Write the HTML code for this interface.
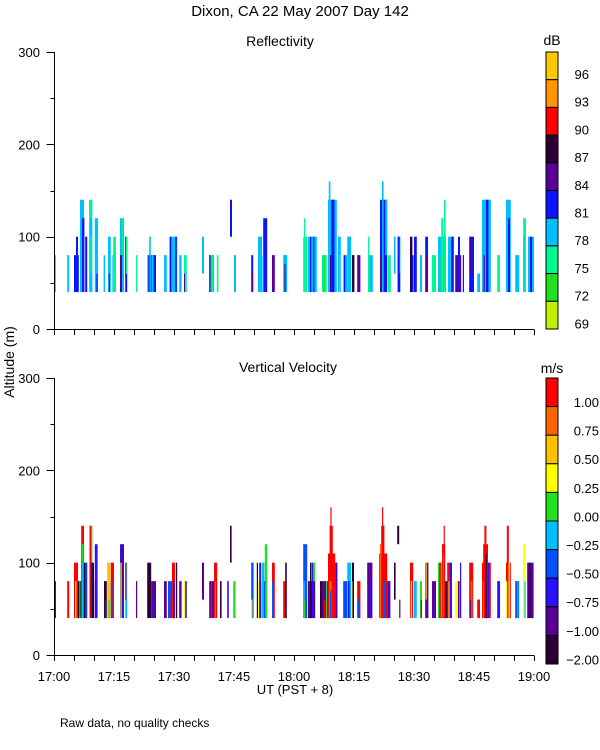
<!DOCTYPE html>
<html><head><meta charset="utf-8"><style>
html,body{margin:0;padding:0;background:#fff;}
svg{display:block;font-family:"Liberation Sans","DejaVu Sans",sans-serif;}
</style></head><body>
<svg id="chart" width="600" height="750" viewBox="0 0 600 750" xmlns="http://www.w3.org/2000/svg">
<text x="300" y="16" font-size="15" text-anchor="middle">Dixon, CA 22 May 2007  Day 142</text>
<text x="280" y="46" font-size="14" text-anchor="middle">Reflectivity</text>
<text x="288" y="372" font-size="14" text-anchor="middle">Vertical Velocity</text>
<text x="14" y="362" font-size="14" text-anchor="middle" transform="rotate(-90 14 362)">Altitude (m)</text>
<text x="295" y="694" font-size="13" text-anchor="middle">UT  (PST + 8)</text>
<text x="60" y="727" font-size="12">Raw data, no quality checks</text>
<text x="552" y="45" font-size="14" text-anchor="middle">dB</text>
<text x="552" y="373" font-size="14" text-anchor="middle">m/s</text>
<g id="marks"></g>
</svg>
<script>
const xTickLabels = ["17:00","17:15","17:30","17:45","18:00","18:15","18:30","18:45","19:00"];
const yTickValues = [0,100,200,300];
const reflLabels = ["96","93","90","87","84","81","78","75","72","69"];
const velLabels = ["1.00","0.75","0.50","0.25","0.00","-0.25","-0.50","-0.75","-1.00","-2.00"];
const reflColors = ["#c0f000","#20e020","#00f890","#00bfff","#0a14ff","#5a0096","#2a0035","#ff0000","#ff9600","#ffc800"];
const velColors = ["#2a0035","#5a0096","#2a10ff","#0050ff","#00bfff","#20e020","#ffff00","#ffc000","#ff6400","#ff0000"];
// reflectivity bars: [startMin, widthMin, loAlt, hiAlt, colorIdx]
const reflBars = [
[0,.5,40,80,2],[3.3,.5,40,80,3],[5,1.2,40,80,4],[5.5,.5,80,100,4],[6.5,1,40,140,3],[7,.6,40,120,4],[7.8,.5,40,100,4],
[8.8,.8,40,140,3],[9,.4,120,140,2],[9.1,.3,60,100,2],[10.2,.8,40,120,3],[10.6,.3,40,60,4],[12.4,.4,40,80,3],
[13.5,.7,40,100,3],[13.7,.3,40,60,4],[14.6,.3,40,80,3],[14.8,.7,40,100,2],[16.5,1,40,120,3],[16.5,.5,40,80,5],[17,.3,80,120,2],
[17.8,.5,40,100,4],[18,.3,60,100,2],[20.5,.3,40,80,2],[23.3,1,40,80,3],[23.8,.4,80,100,3],[23.6,.3,40,80,4],
[24.3,1.2,40,80,4],[24.5,.4,40,80,3],[27.5,.7,40,80,3],[28.8,2,40,100,3],[29,.3,40,100,4],[30.3,.4,40,100,4],
[31.3,.6,40,80,3],[32.5,.7,40,80,2],[32.5,.2,40,60,5],[37,.5,60,100,3],[38.8,1.2,40,80,3],[38.8,.3,40,80,5],[39.5,.3,40,80,2],
[40.7,.4,40,80,2],[44,.5,100,140,4],[45,.5,40,80,3],[49.3,.5,40,80,4],[49.5,.3,40,60,5],[51,1,40,100,3],[52.3,1,40,120,4],[52.1,.3,40,80,3],
[54.5,.7,40,80,5],[57.3,1,40,80,3],[57.6,.3,40,70,5],[62.3,1,40,100,2],[62.5,.3,80,120,2],[63.5,2.2,40,100,3],[64,.3,40,100,4],[64.8,.3,40,100,4],
[67,1.2,40,80,2],[67.3,.4,40,80,1],[68.5,2.2,40,140,3],[68.7,.4,40,160,3],[69.3,.8,40,140,4],[69,.3,40,80,5],
[71,.7,40,100,3],[71.2,.3,40,80,2],[72.3,1,40,80,3],[72.5,.3,40,80,4],[73.3,1,40,100,3],[74.5,.6,40,80,6],[75.8,.8,40,80,5],
[78.5,1.2,40,80,3],[78.5,.3,40,100,2],[81.5,1.8,40,140,4],[82,.4,40,160,3],[81.5,.4,40,80,5],[82.8,.5,80,140,3],
[83.5,.7,40,80,2],[85,.4,60,100,3],[85.8,.8,40,100,3],[86,.4,40,100,4],[86.3,.2,40,60,5],[89,.6,40,100,6],[89.5,.4,40,80,4],
[90,.7,40,100,4],[91.5,.5,40,80,3],[92.8,.7,40,100,4],[93,.3,40,80,5],[94.5,1,40,80,2],[96,2,40,100,3],[96.8,.5,40,120,2],
[97.5,.4,40,140,2],[96.3,.3,40,80,1],[98.5,1.5,40,100,3],[99.3,.6,40,100,4],[100.3,1.5,40,80,5],[101,.5,40,100,4],
[102.2,.3,40,80,4],[103.8,1.2,40,100,4],[104,.4,60,100,5],[105.8,.7,40,60,3],[107,2.2,40,140,3],[108,.6,40,140,4],
[107.4,.3,40,80,5],[110.8,.7,40,80,2],[113,1.2,40,140,3],[113.5,.5,40,120,4],[115.3,1,40,80,3],[117.3,.7,40,120,2],
[117.3,.3,40,100,3],[118.5,1.5,40,100,3],[119,.5,40,100,4]
];
// velocity bars: [startMin, widthMin, loAlt, hiAlt, colorIdx]
const velBars = [
[0,.5,40,80,1],[3.3,.5,40,80,9],[5,1,40,100,9],[5.3,.3,40,80,6],[5.8,.4,40,80,3],[6,.8,40,80,0],[6.3,.3,40,80,5],
[6.8,.7,40,140,9],[7,.4,40,120,4],[7,.3,100,120,5],[7.5,.8,40,100,0],[7.8,.4,40,100,3],[8.8,.8,40,140,5],[9,.3,40,140,9],
[9.2,.3,40,100,2],[9.5,.5,40,100,0],[10.2,.7,40,120,2],[10.2,.3,40,80,1],[12.5,.7,40,80,0],[12.7,.3,40,60,1],
[13.3,.8,40,100,7],[13.6,.3,40,60,5],[14.2,.8,40,100,9],[14.2,.4,40,80,3],[16.5,1,40,120,2],[16.6,.3,40,100,6],[17,.3,60,120,1],
[17.8,.5,40,100,4],[17.8,.3,60,100,9],[20.5,.3,40,80,1],[23.3,1,40,100,0],[24.3,1.2,40,80,1],[24.6,.4,40,60,2],
[27.5,.7,40,80,1],[28.5,1,40,80,3],[28.8,.3,40,60,9],[29.5,.8,40,100,9],[29.8,.4,40,80,2],[30.5,.3,40,100,0],
[31.3,.6,40,80,1],[32.5,.7,40,80,6],[32.8,.4,40,80,2],[37,.5,60,100,1],[38.8,1.3,40,80,1],[39.2,.3,40,80,9],
[40,.8,40,100,9],[40.2,.3,40,80,8],[41.5,.4,40,80,0],[43.3,.4,40,80,2],[44,.4,100,140,0],[44.8,.6,40,80,5],
[49.3,.6,40,100,3],[49.3,.3,40,60,6],[50.7,.3,40,100,0],[51,1.3,40,80,6],[51.3,.5,40,100,2],[52,.6,40,100,4],
[52.7,.6,40,120,5],[52.5,.3,40,80,3],[54.5,.7,40,100,9],[54.5,.3,40,80,3],[57.3,.8,40,80,9],[57.8,.4,40,100,0],
[62.3,1,40,120,3],[62.3,.4,40,80,4],[62.5,.3,40,60,5],[63.5,1.8,40,80,1],[64,.4,40,100,0],[64.5,.4,40,100,2],[65,.3,80,100,5],
[66.5,.5,40,80,0],[67,1.5,40,80,1],[67.5,.3,40,60,9],[68,.3,40,80,5],
[68.5,1.8,40,110,9],[68.9,.8,40,140,9],[69.1,.3,40,160,9],[68.8,.6,40,80,8],[69,.3,40,70,3],
[70.3,.5,40,100,2],[70.6,.2,40,100,1],[72.3,1,40,80,3],[73.3,1,40,100,4],[73.5,.4,40,80,2],[74.5,.5,40,100,0],[74.3,.3,40,80,6],
[75.8,.8,40,80,9],[76,.3,40,60,3],[78.3,1.3,40,100,1],[78.8,.4,40,80,2],
[81.3,2,40,110,9],[81.8,.8,40,140,9],[82,.3,40,160,9],[82.4,.4,40,80,3],[81.5,.3,40,120,8],
[83.3,.8,40,80,1],[83.6,.3,40,80,2],[85,.4,60,100,0],[85.8,.5,120,140,0],[86.3,.3,40,60,1],[89,.8,40,100,9],[89.2,.3,40,80,6],
[90,.7,40,80,4],[91.5,.5,40,80,5],[91.7,.2,40,60,1],[92.8,.8,40,100,1],[92.9,.3,60,100,7],[94.5,1,40,80,1],[94.8,.3,40,60,2],
[96,1,40,100,5],[96.3,.4,40,100,9],[97,.8,40,120,9],[97.4,.3,40,140,9],[97.2,.2,40,110,8],[97.8,.6,40,80,0],[98.3,.8,40,100,9],[99,.5,40,100,2],
[98.6,.3,40,80,7],[100.3,1.5,40,80,6],[101,.4,40,80,1],[101.5,.3,40,100,2],[103.8,1,40,100,9],[104.2,.4,40,80,8],[104,.3,40,60,1],
[105.8,.7,40,60,9],[107,2.2,40,100,9],[107.3,1.2,40,120,9],[107.6,.5,40,140,9],[107.9,.3,40,110,0],[108.4,.4,40,100,2],[107.2,.3,40,80,8],[110.8,.7,40,80,2],
[113,1.2,40,100,9],[113.2,.5,40,140,9],[113.6,.4,40,100,7],[113,.3,40,80,6],[115.3,1,40,80,3],[115.8,.3,40,80,5],[117.3,.6,40,120,6],[117.6,.3,40,80,4],
[118.3,1.6,40,100,1],[118.7,.4,40,100,0]
];

const NS = "http://www.w3.org/2000/svg";
const g = document.getElementById("marks");
const X0 = 54, PXMIN = 4;
const xScale = m => X0 + m * PXMIN;
const ppm = 0.9233;
const yTop = a => 329 - a * ppm;
const yBot = a => 655 - a * ppm;

function el(tag, attrs, parent) {
  const e = document.createElementNS(NS, tag);
  for (const k in attrs) e.setAttribute(k, attrs[k]);
  (parent || g).appendChild(e);
  return e;
}

function drawBars(bars, palette, yS, name) {
  bars.forEach(b => {
    const x = xScale(b[0]);
    const w = Math.max(1, b[1] * PXMIN);
    const r = el("rect", {x: x, y: yS(b[3]), width: w, height: yS(b[2]) - yS(b[3]), fill: palette[b[4]]});
    
    
  });
}
drawBars(reflBars, reflColors, yTop, 'reflectivity-bar');
drawBars(velBars, velColors, yBot, 'velocity-bar');

function drawAxes(yS, zeroY, prefix) {
  const ax = el("path", {d: `M${X0+.5} ${yS(300)} V${zeroY+.5} H534`, stroke: "#000", fill: "none", "stroke-width": 1});
  
  
  for (let v = 0; v <= 300; v += 50) {
    const y = Math.round(yS(v)) + .5;
    const len = v % 100 === 0 ? 8 : 4;
    const t = el("line", {x1: X0 + .5 - len, x2: X0 + .5, y1: y, y2: y, stroke: "#000"});
    
    
  }
  yTickValues.forEach(v => {
    const t = el("text", {x: 40, y: yS(v) + 5, "font-size": 13, "text-anchor": "end"});
    t.textContent = v;
    
    
  });
  for (let m = 0; m <= 120; m += 5) {
    const x = Math.round(xScale(m)) + .5;
    const t = el("line", {x1: x, x2: x, y1: zeroY + .5, y2: zeroY + 6, stroke: "#000"});
    
    
  }
}
drawAxes(yTop, 329, 'reflectivity');
drawAxes(yBot, 655, 'velocity');

xTickLabels.forEach((lab, i) => {
  const t = el("text", {x: xScale(i * 15), y: 681, "font-size": 13, "text-anchor": "middle"});
  t.textContent = lab;
  
  
});

function colorbar(palette, labels, top, bottom, labelY0, labelStep, labelX, name) {
  const n = palette.length, h = (bottom - top) / n;
  for (let i = 0; i < n; i++) {
    const r = el("rect", {x: 546, y: top + i * h, width: 12, height: h, fill: palette[n - 1 - i], stroke: "#000", "stroke-width": 1});
    
    
  }
  labels.forEach((lab, i) => {
    const t = el("text", {x: labelX, y: labelY0 + i * labelStep, "font-size": 13, "text-anchor": "end"});
    t.textContent = lab.replace("-", "\u2212");
    
    
  });
}
colorbar(reflColors, reflLabels, 52, 329, 79, 27.7, 589, 'reflectivity-colorbar');
colorbar(velColors, velLabels, 378, 664, 407, 28.6, 599, 'velocity-colorbar');
</script>
</body></html>
